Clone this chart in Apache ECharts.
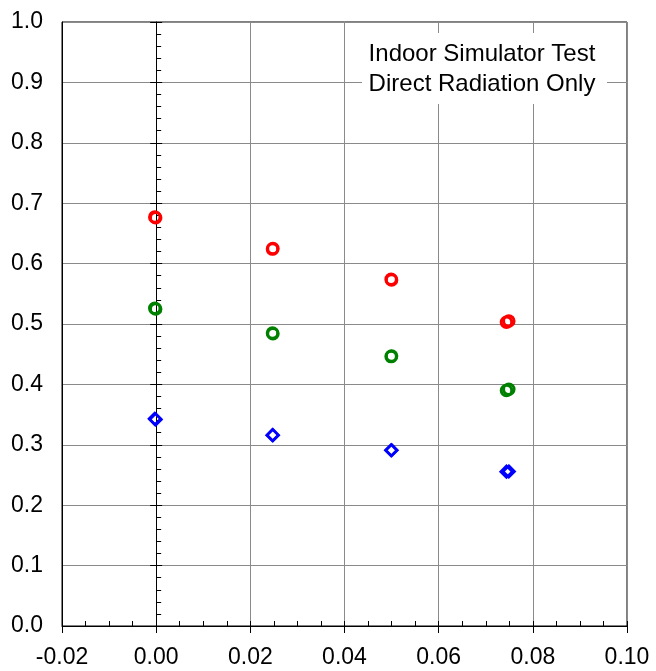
<!DOCTYPE html>
<html>
<head>
<meta charset="utf-8">
<script src="https://cdn.jsdelivr.net/npm/echarts@6/dist/echarts.min.js"></script>
<style>html,body{margin:0;padding:0;background:#fff;}#c{width:656px;height:671px;}</style>
</head>
<body>
<div id="c"></div>
<script>
// tick labels / axis ranges
const xTicks = [-0.02, 0.00, 0.02, 0.04, 0.06, 0.08, 0.10];
const yTicks = [0.0, 0.1, 0.2, 0.3, 0.4, 0.5, 0.6, 0.7, 0.8, 0.9, 1.0];
// run A and run B (nearly overlapping repeat measurements)
const xRunA = [-0.0003, 0.0247, 0.0499, 0.0744];
const xRunB = [-0.0001, 0.0248, 0.0500, 0.0749];
const redA = [0.677, 0.624, 0.574, 0.503];
const redB = [0.676, 0.625, 0.573, 0.505];
const greenA = [0.526, 0.485, 0.446, 0.390];
const greenB = [0.525, 0.484, 0.447, 0.392];
const blueA = [0.343, 0.316, 0.291, 0.2555];
const blueB = [0.342, 0.316, 0.291, 0.2558];
const noteLines = ['Indoor Simulator Test', 'Direct Radiation Only'];

const FONT = 'Liberation Sans, Arial, sans-serif';
function pts(xs, ys) { return xs.map((x, i) => [x, ys[i]]); }
function sc(name, xs, ys, color, symbol, size, bw) {
  return {
    name: name, type: 'scatter', xAxisIndex: 0, yAxisIndex: 0,
    data: pts(xs, ys), symbol: symbol, symbolSize: size,
    itemStyle: { color: 'rgba(255,255,255,0)', borderColor: color, borderWidth: bw, opacity: 1 },
    emphasis: { disabled: true }, z: 10
  };
}
const xMin = xTicks[0], xMax = xTicks[xTicks.length - 1];
const yMin = yTicks[0], yMax = yTicks[yTicks.length - 1];
const chart = echarts.init(document.getElementById('c'));
chart.setOption({
  animation: false,
  backgroundColor: '#fff',
  grid: { left: 62, right: 29, top: 22, bottom: 45, show: true, borderColor: '#000', borderWidth: 1, backgroundColor: 'transparent', containLabel: false },
  xAxis: [
    { type: 'value', position: 'bottom', min: xMin, max: xMax, interval: 0.02,
      axisLine: { show: true, onZero: false, lineStyle: { color: '#000', width: 1 } },
      axisTick: { show: true, inside: false, length: 7, lineStyle: { color: '#000' } },
      axisLabel: { show: true, margin: 20, fontSize: 23, fontFamily: FONT, color: '#000', formatter: v => v.toFixed(2) },
      splitLine: { show: true, lineStyle: { color: '#8a8a8a', width: 1 } } },
    { type: 'value', position: 'bottom', min: xMin, max: xMax, interval: 0.02,
      axisLine: { show: false, onZero: false },
      axisTick: { show: true, inside: true, length: 5, lineStyle: { color: '#000' } },
      minorTick: { show: true, splitNumber: 4, length: 5, lineStyle: { color: '#000' } },
      axisLabel: { show: false }, splitLine: { show: false } }
  ],
  yAxis: [
    { type: 'value', position: 'left', min: yMin, max: yMax, interval: 0.1,
      axisLine: { show: true, onZero: false, lineStyle: { color: '#000', width: 1 } },
      axisTick: { show: false },
      axisLabel: { show: true, margin: 19, fontSize: 23, fontFamily: FONT, color: '#000', formatter: v => v.toFixed(1) },
      splitLine: { show: true, lineStyle: { color: '#8a8a8a', width: 1 } } },
    { type: 'value', position: 'left', min: yMin, max: yMax, interval: 0.1,
      axisLine: { show: true, onZero: true, onZeroAxisIndex: 0, lineStyle: { color: '#000', width: 1 } },
      axisTick: { show: true, inside: true, length: 6, lineStyle: { color: '#000' } },
      minorTick: { show: true, splitNumber: 5, length: 5, lineStyle: { color: '#000' } },
      axisLabel: { show: false }, splitLine: { show: false } },
    { type: 'value', position: 'left', min: yMin, max: yMax, interval: 0.1,
      axisLine: { show: false, onZero: true, onZeroAxisIndex: 0 },
      axisTick: { show: true, inside: false, length: 6, lineStyle: { color: '#000' } },
      axisLabel: { show: false }, splitLine: { show: false } }
  ],
  graphic: [
    { type: 'rect', z: 50, shape: { x: 362, y: 33, width: 245, height: 71 }, style: { fill: '#fff' } },
    { type: 'text', z: 51, x: 482, y: 69, style: { text: noteLines.join('\n'), fontSize: 24, fontFamily: FONT, fill: '#000', align: 'center', verticalAlign: 'middle', lineHeight: 30 } }
  ],
  series: [
    sc('Red A', xRunA, redA, '#ff0000', 'circle', 10.5, 3),
    sc('Red B', xRunB, redB, '#ff0000', 'circle', 10.5, 3),
    sc('Green A', xRunA, greenA, '#008000', 'circle', 10.5, 3),
    sc('Green B', xRunB, greenB, '#008000', 'circle', 10.5, 3),
    sc('Blue A', xRunA, blueA, '#0000ff', 'diamond', 11.5, 2.6),
    sc('Blue B', xRunB, blueB, '#0000ff', 'diamond', 11.5, 2.6)
  ]
});
</script>
</body>
</html>
